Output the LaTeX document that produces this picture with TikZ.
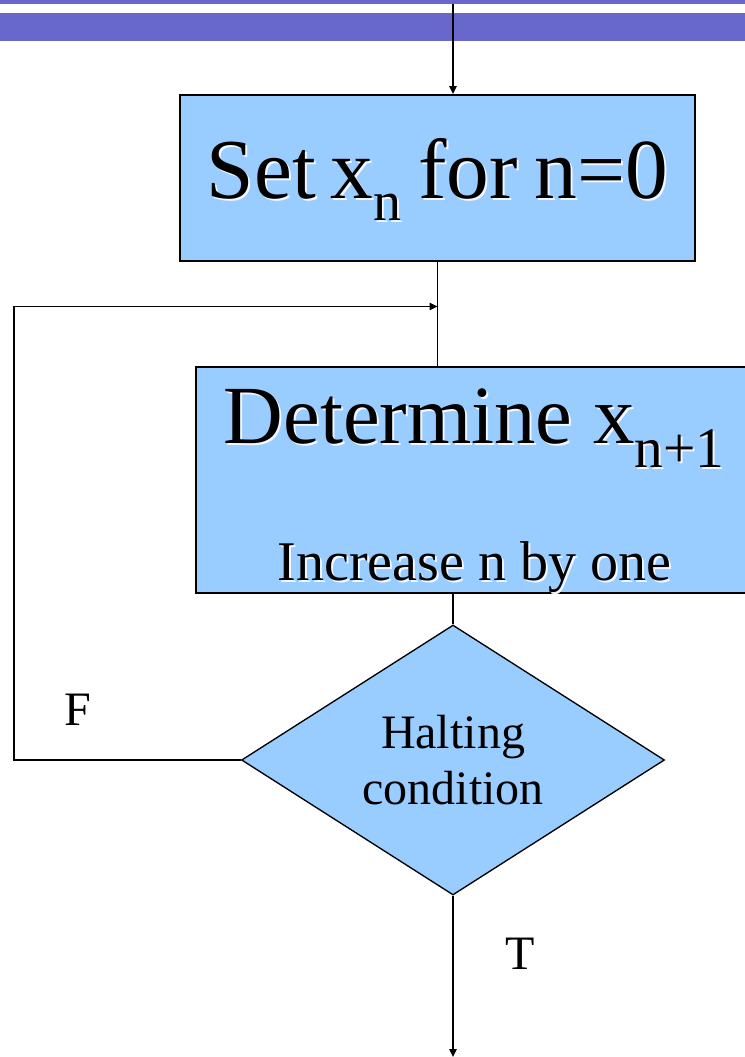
\documentclass[tikz,border=0pt]{standalone}
\usepackage{fontspec}
\setmainfont{Liberation Serif}
\usetikzlibrary{shapes.geometric,arrows.meta}
\definecolor{barpurple}{HTML}{6868CC}
\definecolor{boxblue}{HTML}{99CCFF}
\newcommand\shd[1]{\makebox[0pt][l]{\hspace{1.5pt}\raisebox{-1.5pt}{\textcolor{white!85!boxblue}{#1}}}#1}
\tikzset{
  flowbox/.style={draw=black, line width=1.5pt, fill=boxblue, rectangle, inner sep=0pt},
  decision/.style={draw=black, line width=1pt, fill=boxblue, diamond, aspect=1.567, inner sep=0pt, align=center, font=\fontsize{36}{42}\selectfont},
  conn/.style={draw=black, line width=1.3pt},
  arr/.style={conn, -{Triangle[length=6pt,width=5.5pt]}},
  lbl/.style={anchor=base, inner sep=0pt, font=\fontsize{36}{40}\selectfont}
}
\begin{document}
\begin{tikzpicture}[x=0.75pt, y=-0.75pt]
\clip (0,0) rectangle (745,1057);
\fill[white] (0,0) rectangle (745,1057);
% header bars
\fill[barpurple] (0,0) rectangle (745,4.3);
\fill[barpurple] (0,13) rectangle (745,41);
% boxes
\node[flowbox, minimum width=386.25pt, minimum height=124.5pt] (box1) at (437.5,178) {};
\node[anchor=base, inner sep=0pt, font=\fontsize{64}{70}\selectfont] (t1) at (437.5,198)
  {\shd{Set\hspace{0.17em}x\raisebox{-16.5pt}{\fontsize{42}{44}\selectfont n}\hspace{0.2em}for\hspace{0.2em}n=0}};
\node[flowbox, minimum width=417pt, minimum height=169.5pt] (box2) at (474,480) {};
\node[anchor=base, inner sep=0pt, font=\fontsize{62}{66}\selectfont] (t2) at (474,443)
  {\shd{Determine x\raisebox{-18pt}{\fontsize{43}{45}\selectfont n+1}}};
\node[anchor=base, inner sep=0pt, font=\fontsize{42}{46}\selectfont] (t3) at (474.5,580)
  {\shd{Increase n by one}};
\node[decision, minimum width=317.25pt, minimum height=202.5pt] (dia) at (453,760) {Halting\\condition};
% labels
\node[lbl] (F) at (78,725) {F};
\node[lbl] (T) at (520.5,969) {T};
% connectors
\coordinate (topin) at (453,4);
\coordinate (loopA) at (14,760);
\coordinate (loopB) at (14,306.5);
\coordinate (loopend) at (437.5,306.5);
\coordinate (outend) at (453,1057);
\draw[arr] (topin) -- (topin |- box1.north);
\draw[conn] (box1.south) -- (box1.south |- box2.north);
\draw[arr] (dia.west) -- (loopA) -- (loopB) -- (loopend);
\draw[conn] (dia.north |- box2.south) -- (dia.north);
\draw[arr] (dia.south) -- (outend);
\end{tikzpicture}
\end{document}
